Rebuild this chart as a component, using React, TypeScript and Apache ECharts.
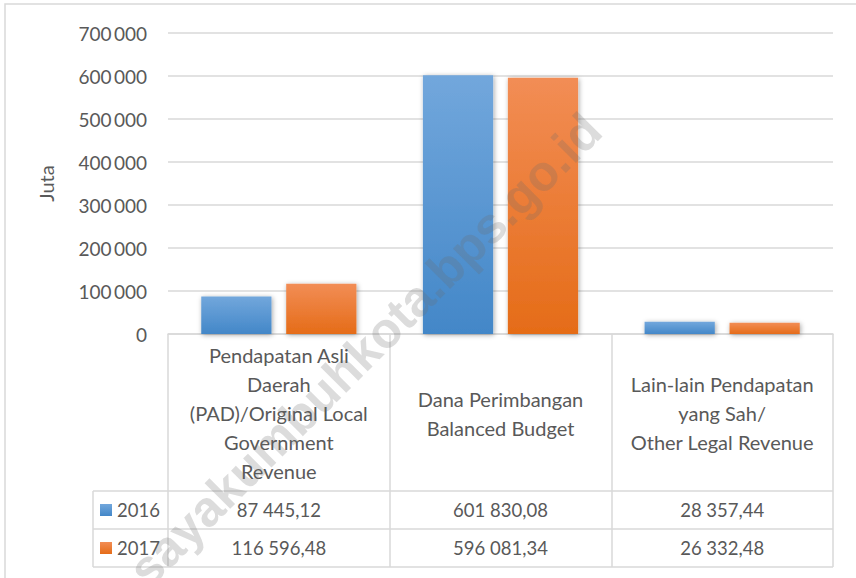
import React, { useEffect, useRef } from "react";
import * as echarts from "echarts";

const categories = [
  "Pendapatan Asli\nDaerah\n(PAD)/Original Local\nGovernment\nRevenue",
  "Dana Perimbangan\nBalanced Budget",
  "Lain-lain Pendapatan\nyang Sah/\nOther Legal Revenue",
];
const seriesNames = ["2016", "2017"];
const values2016 = [87445.12, 601830.08, 28357.44];
const values2017 = [116596.48, 596081.34, 26332.48];
const yMin = 0;
const yMax = 700000;
const yInterval = 100000;
const yAxisName = "Juta";
const watermark = "sayakumbuhkota.bps.go.id";

const FONT = "Lato, 'Open Sans', sans-serif";
const TEXT = "#595959";
const GRID = "#d9d9d9";

function groupDigits(s: string, sep: string) {
  return s.replace(/\B(?=(\d{3})+(?!\d))/g, sep);
}
function fmtValue(v: number) {
  const [i, d] = v.toFixed(2).split(".");
  return groupDigits(i, " ") + "," + d;
}

function grad(top: string, bottom: string) {
  return new echarts.graphic.LinearGradient(0, 0, 0, 1, [
    { offset: 0, color: top },
    { offset: 1, color: bottom },
  ]);
}

export default function App() {
  const ref = useRef<HTMLDivElement>(null);
  useEffect(() => {
    if (!ref.current) return;
    const chart = echarts.init(ref.current, undefined, { renderer: "svg" });
    const rowAxis = (data: string[], margin: number) => ({
      type: "category",
      data,
      position: "bottom",
      axisLine: { show: false },
      axisTick: { show: false },
      axisLabel: {
        interval: 0,
        margin,
        verticalAlign: "middle",
        color: TEXT,
        fontFamily: FONT,
        fontSize: 18.5,
      },
    });
    chart.setOption({
      animation: false,
      textStyle: { fontFamily: FONT },
      grid: { left: 168, right: 23, top: 33, bottom: 244, containLabel: false },
      legend: {
        orient: "vertical",
        left: 100,
        top: 500,
        padding: 0,
        itemWidth: 12,
        itemHeight: 12,
        itemGap: 18,
        icon: "rect",
        data: seriesNames,
        textStyle: { color: TEXT, fontFamily: FONT, fontSize: 18.5, lineHeight: 20 },
        selectedMode: false,
      },
      xAxis: [
        {
          type: "category",
          data: categories,
          axisLine: { show: true, lineStyle: { color: GRID, width: 1.5 } },
          axisTick: { show: true, length: 233, interval: 0, lineStyle: { color: GRID, width: 1.5 } },
          axisLabel: {
            interval: 0,
            margin: 79,
            verticalAlign: "middle",
            color: TEXT,
            fontFamily: FONT,
            fontSize: 20,
            lineHeight: 29,
            align: "center",
          },
        },
        rowAxis(values2016.map(fmtValue), 176),
        rowAxis(values2017.map(fmtValue), 214),
      ],
      yAxis: {
        type: "value",
        min: yMin,
        max: yMax,
        interval: yInterval,
        name: yAxisName,
        nameLocation: "middle",
        nameGap: 112,
        nameRotate: 90,
        nameTextStyle: { color: TEXT, fontFamily: FONT, fontSize: 20 },
        axisLine: { show: false },
        axisTick: { show: false },
        axisLabel: {
          margin: 21,
          color: TEXT,
          fontFamily: FONT,
          fontSize: 19,
          formatter: (v: number) => groupDigits(String(v), "\u2009"),
        },
        splitLine: { lineStyle: { color: GRID, width: 1.5 } },
      },
      series: [
        {
          name: seriesNames[0],
          type: "bar",
          data: values2016,
          barCategoryGap: "30%",
          barGap: "21%",
          itemStyle: {
            color: grad("#72a7dc", "#4387c8"),
            shadowBlur: 5,
            shadowColor: "rgba(0,0,0,0.35)",
            shadowOffsetX: 1,
            shadowOffsetY: 1,
          },
        },
        {
          name: seriesNames[1],
          type: "bar",
          data: values2017,
          barCategoryGap: "30%",
          barGap: "21%",
          itemStyle: {
            color: grad("#f28d55", "#e56c18"),
            shadowBlur: 5,
            shadowColor: "rgba(0,0,0,0.35)",
            shadowOffsetX: 1,
            shadowOffsetY: 1,
          },
        },
      ],
      graphic: [
        {
          type: "rect",
          silent: true,
          shape: { x: 5, y: 4, width: 900, height: 700 },
          style: { fill: "none", stroke: GRID, lineWidth: 1.5 },
        },
        { type: "line", silent: true, shape: { x1: 93, y1: 491, x2: 833, y2: 491 }, style: { stroke: GRID, lineWidth: 1.5 } },
        { type: "line", silent: true, shape: { x1: 93, y1: 529, x2: 833, y2: 529 }, style: { stroke: GRID, lineWidth: 1.5 } },
        { type: "line", silent: true, shape: { x1: 93, y1: 567, x2: 833, y2: 567 }, style: { stroke: GRID, lineWidth: 1.5 } },
        { type: "line", silent: true, shape: { x1: 93, y1: 491, x2: 93, y2: 567 }, style: { stroke: GRID, lineWidth: 1.5 } },
        {
          type: "text",
          silent: true,
          z: 100,
          x: 365,
          y: 350,
          rotation: 0.785,
          style: {
            text: watermark,
            x: 0,
            y: 0,
            align: "center",
            verticalAlign: "middle",
            fill: "rgba(110,110,110,0.24)",
            font: "bold 50px 'Liberation Sans', Arial, sans-serif",
          },
        },
      ],
    });
    return () => chart.dispose();
  }, []);
  return (
    <div
      ref={ref}
      style={{ position: "absolute", left: 0, top: 0, width: 856, height: 578 }}
    />
  );
}
